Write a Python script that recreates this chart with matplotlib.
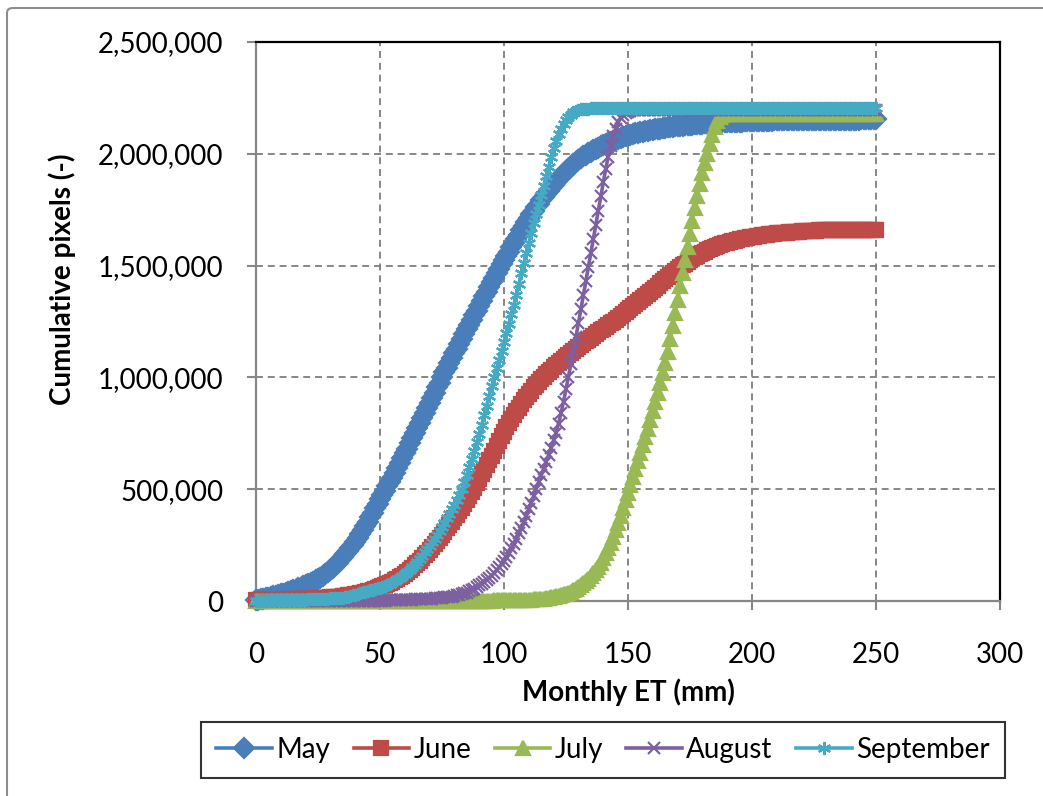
import numpy as np
import matplotlib
matplotlib.use("Agg")
import matplotlib.pyplot as plt
from matplotlib.ticker import FuncFormatter, MultipleLocator
from matplotlib.patches import FancyBboxPatch

# Monthly ET bins (mm), 1 mm steps
et_mm = list(range(0, 251))

# Cumulative pixel counts, in thousands of pixels
may = [3, 5, 7, 10, 12, 15, 18, 21, 24, 27, 30,
       33, 37, 40, 44, 47, 51, 56, 60, 65, 70,
       75, 80, 86, 92, 98, 105, 113, 121, 129, 138,
       148, 159, 171, 183, 195, 208, 222, 236, 250, 265,
       282, 299, 317, 336, 355, 375, 395, 415, 435, 455,
       474, 493, 513, 532, 552, 573, 595, 616, 638, 660,
       682, 705, 727, 750, 773, 796, 818, 841, 864, 887,
       910, 932, 955, 977, 1000, 1022, 1043, 1065, 1086, 1108,
       1129, 1151, 1172, 1194, 1215, 1236, 1257, 1278, 1299, 1320,
       1341, 1362, 1383, 1404, 1425, 1445, 1465, 1485, 1505, 1525,
       1544, 1563, 1582, 1601, 1620, 1639, 1657, 1676, 1694, 1713,
       1729, 1745, 1761, 1776, 1792, 1806, 1820, 1834, 1848, 1862,
       1874, 1887, 1899, 1911, 1923, 1933, 1943, 1953, 1963, 1973,
       1981, 1988, 1996, 2003, 2010, 2016, 2022, 2028, 2034, 2040,
       2045, 2050, 2055, 2059, 2064, 2068, 2072, 2076, 2079, 2083,
       2086, 2089, 2092, 2094, 2097, 2099, 2101, 2104, 2106, 2108,
       2110, 2112, 2113, 2115, 2117, 2118, 2120, 2121, 2123, 2124,
       2125, 2126, 2128, 2129, 2130, 2131, 2132, 2133, 2134, 2135,
       2136, 2137, 2137, 2138, 2139, 2139, 2140, 2141, 2141, 2142,
       2142, 2143, 2143, 2144, 2144, 2144, 2145, 2145, 2146, 2146,
       2146, 2147, 2147, 2147, 2148, 2148, 2148, 2148, 2149, 2149,
       2149, 2149, 2150, 2150, 2150, 2150, 2150, 2151, 2151, 2151,
       2151, 2151, 2151, 2152, 2152, 2152, 2152, 2152, 2152, 2152,
       2152, 2153, 2153, 2153, 2153, 2153, 2153, 2153, 2153, 2153,
       2153, 2153, 2153, 2154, 2154, 2154, 2154, 2154, 2154, 2154]

june = [3, 3, 3, 3, 4, 4, 4, 4, 5, 5, 5,
        5, 6, 6, 6, 7, 7, 8, 8, 9, 9,
        10, 10, 11, 12, 12, 13, 14, 14, 15, 16,
        17, 18, 19, 20, 22, 23, 25, 26, 28, 30,
        32, 35, 37, 40, 43, 46, 50, 54, 58, 62,
        66, 71, 75, 80, 85, 92, 99, 107, 114, 122,
        131, 140, 149, 159, 168, 180, 192, 204, 216, 228,
        241, 255, 268, 282, 295, 310, 325, 340, 355, 370,
        386, 402, 418, 434, 450, 469, 488, 507, 527, 547,
        567, 588, 608, 629, 650, 672, 694, 716, 737, 757,
        776, 795, 813, 831, 848, 865, 881, 897, 912, 927,
        941, 955, 968, 981, 993, 1004, 1015, 1025, 1035, 1045,
        1054, 1063, 1072, 1081, 1090, 1099, 1108, 1117, 1126, 1135,
        1144, 1152, 1161, 1169, 1178, 1186, 1194, 1202, 1210, 1218,
        1226, 1234, 1242, 1250, 1258, 1266, 1275, 1283, 1292, 1300,
        1309, 1318, 1327, 1336, 1345, 1354, 1364, 1373, 1383, 1392,
        1402, 1411, 1421, 1430, 1440, 1449, 1458, 1467, 1476, 1485,
        1493, 1501, 1509, 1517, 1525, 1532, 1538, 1545, 1551, 1558,
        1563, 1568, 1573, 1578, 1583, 1587, 1591, 1595, 1599, 1603,
        1606, 1609, 1612, 1615, 1618, 1620, 1622, 1624, 1626, 1628,
        1630, 1632, 1633, 1635, 1637, 1638, 1640, 1641, 1643, 1644,
        1645, 1646, 1647, 1648, 1649, 1650, 1651, 1651, 1652, 1653,
        1654, 1654, 1655, 1655, 1656, 1656, 1657, 1657, 1658, 1658,
        1658, 1658, 1658, 1659, 1659, 1659, 1659, 1659, 1659, 1659,
        1659, 1659, 1660, 1660, 1660, 1660, 1660, 1660, 1660, 1660]

july = [1, 1, 1, 1, 1, 1, 1, 1, 1, 1, 1,
        1, 1, 1, 1, 1, 1, 1, 1, 1, 1,
        1, 1, 1, 1, 1, 1, 1, 1, 1, 1,
        1, 1, 1, 1, 1, 1, 1, 1, 1, 1,
        1, 1, 1, 1, 1, 1, 1, 1, 1, 1,
        1, 1, 1, 1, 1, 1, 1, 1, 1, 1,
        1, 1, 1, 1, 1, 1, 1, 1, 1, 1,
        1, 1, 1, 1, 2, 2, 2, 2, 2, 2,
        2, 2, 2, 2, 2, 2, 2, 2, 2, 2,
        2, 2, 2, 2, 2, 3, 3, 3, 3, 3,
        3, 3, 4, 4, 4, 4, 4, 5, 5, 5,
        6, 7, 7, 8, 10, 11, 13, 14, 16, 18,
        21, 24, 27, 30, 33, 37, 42, 47, 54, 62,
        71, 80, 90, 100, 112, 125, 139, 154, 172, 192,
        213, 236, 261, 288, 317, 348, 381, 415, 450, 485,
        520, 555, 590, 625, 660, 696, 733, 771, 810, 850,
        890, 932, 975, 1020, 1065, 1115, 1170, 1228, 1288, 1348,
        1408, 1468, 1527, 1585, 1642, 1700, 1758, 1812, 1864, 1912,
        1957, 2000, 2043, 2085, 2120, 2148, 2164, 2172, 2176, 2178,
        2179, 2179, 2179, 2179, 2179, 2179, 2179, 2179, 2179, 2179,
        2180, 2180, 2180, 2180, 2180, 2180, 2180, 2180, 2180, 2180,
        2180, 2180, 2180, 2180, 2180, 2180, 2180, 2180, 2180, 2180,
        2180, 2180, 2180, 2180, 2180, 2180, 2180, 2180, 2180, 2180,
        2180, 2180, 2180, 2180, 2180, 2180, 2180, 2180, 2180, 2180,
        2180, 2180, 2180, 2180, 2180, 2180, 2180, 2180, 2180, 2180]

august = [0, 0, 0, 0, 0, 0, 0, 0, 0, 0, 0,
          0, 0, 0, 0, 0, 0, 0, 0, 0, 0,
          0, 0, 0, 0, 0, 0, 0, 0, 0, 0,
          0, 0, 0, 0, 0, 0, 0, 0, 0, 0,
          1, 1, 1, 1, 1, 1, 1, 2, 2, 2,
          2, 2, 3, 3, 3, 3, 4, 4, 5, 5,
          5, 6, 6, 7, 7, 8, 8, 9, 9, 10,
          11, 12, 13, 14, 15, 16, 17, 18, 20, 22,
          25, 28, 31, 34, 38, 43, 49, 55, 62, 70,
          78, 86, 95, 104, 114, 125, 137, 150, 164, 178,
          196, 215, 235, 256, 278, 302, 327, 354, 382, 411,
          440, 470, 502, 532, 562, 592, 622, 653, 685, 718,
          752, 793, 840, 892, 947, 1003, 1061, 1120, 1180, 1242,
          1304, 1367, 1430, 1493, 1556, 1619, 1682, 1745, 1810, 1872,
          1932, 1985, 2035, 2078, 2112, 2140, 2160, 2175, 2184, 2189,
          2192, 2194, 2195, 2196, 2196, 2196, 2196, 2196, 2196, 2196,
          2196, 2196, 2196, 2196, 2196, 2196, 2196, 2196, 2196, 2196,
          2196, 2196, 2196, 2196, 2196, 2196, 2196, 2196, 2196, 2196,
          2196, 2196, 2196, 2196, 2196, 2196, 2197, 2197, 2197, 2197,
          2197, 2197, 2197, 2197, 2197, 2197, 2197, 2197, 2197, 2197,
          2197, 2197, 2197, 2197, 2197, 2197, 2197, 2197, 2197, 2197,
          2197, 2197, 2197, 2197, 2197, 2197, 2197, 2197, 2197, 2197,
          2197, 2197, 2197, 2197, 2197, 2197, 2197, 2197, 2197, 2197,
          2197, 2197, 2197, 2197, 2197, 2197, 2197, 2197, 2197, 2197,
          2197, 2197, 2197, 2197, 2197, 2197, 2197, 2197, 2197, 2197]

september = [2, 2, 2, 2, 2, 3, 3, 3, 3, 3, 3,
             4, 4, 4, 4, 5, 5, 5, 6, 6, 6,
             7, 7, 8, 8, 9, 9, 10, 10, 11, 12,
             12, 13, 14, 14, 15, 17, 19, 22, 25, 28,
             32, 36, 39, 42, 45, 48, 51, 54, 57, 60,
             63, 67, 72, 78, 85, 91, 98, 105, 112, 120,
             129, 140, 152, 163, 175, 189, 203, 217, 231, 245,
             262, 279, 296, 313, 330, 350, 370, 390, 410, 430,
             453, 476, 500, 532, 565, 601, 637, 673, 709, 745,
             788, 831, 874, 917, 960, 1000, 1040, 1080, 1120, 1160,
             1200, 1240, 1283, 1326, 1370, 1417, 1465, 1510, 1555, 1600,
             1645, 1690, 1732, 1773, 1815, 1857, 1900, 1943, 1985, 2025,
             2058, 2090, 2113, 2135, 2150, 2165, 2175, 2185, 2191, 2196,
             2199, 2201, 2202, 2202, 2203, 2203, 2203, 2204, 2204, 2204,
             2204, 2204, 2204, 2204, 2204, 2204, 2204, 2204, 2205, 2205,
             2205, 2205, 2205, 2205, 2205, 2205, 2205, 2205, 2205, 2205,
             2205, 2205, 2205, 2205, 2205, 2205, 2205, 2205, 2205, 2205,
             2205, 2205, 2205, 2205, 2205, 2205, 2205, 2205, 2205, 2205,
             2205, 2205, 2205, 2205, 2205, 2205, 2205, 2205, 2205, 2205,
             2205, 2205, 2205, 2205, 2205, 2205, 2205, 2205, 2205, 2205,
             2205, 2205, 2205, 2205, 2205, 2205, 2205, 2205, 2205, 2205,
             2205, 2205, 2205, 2205, 2205, 2205, 2205, 2205, 2205, 2205,
             2205, 2205, 2205, 2205, 2205, 2205, 2205, 2205, 2205, 2205,
             2205, 2205, 2205, 2205, 2205, 2205, 2205, 2205, 2205, 2205,
             2205, 2205, 2205, 2205, 2205, 2205, 2205, 2205, 2205, 2205]

months = ["May", "June", "July", "August", "September"]
series = [may, june, july, august, september]

colors = ["#4A7EBB", "#BE4B48", "#98B954", "#7D60A0", "#46AAC5"]
markers = ["D", "s", "^", "x", (6, 2, 0)]
msizes = [10.5, 10.5, 10, 8.5, 9.5]

plt.rcParams["font.family"] = ["Lato", "DejaVu Sans"]
plt.rcParams["lines.scale_dashes"] = False

W, H = 1043, 796
fig = plt.figure(figsize=(W / 100, H / 100), dpi=100)
ax = fig.add_axes([256 / W, 1 - 601 / H, 744 / W, 559 / H])

for name, vals, c, m, ms in zip(months, series, colors, markers, msizes):
    ax.plot(et_mm, np.asarray(vals) * 1000, color=c, lw=2.6,
            marker=m, ms=ms, mfc=c, mec=c, mew=1.6,
            label=name, clip_on=False, zorder=3)

ax.set_xlim(0, 300)
ax.set_ylim(0, 2500000)
ax.xaxis.set_major_locator(MultipleLocator(50))
ax.yaxis.set_major_locator(MultipleLocator(500000))
ax.yaxis.set_major_formatter(FuncFormatter(lambda v, p: f"{v:,.0f}"))

grid_gray = "#878787"
ax.grid(True, color=grid_gray, lw=1.4, linestyle=(0, (5, 3.5)))
ax.set_axisbelow(True)

for side in ("left", "bottom"):
    ax.spines[side].set_color(grid_gray)
    ax.spines[side].set_linewidth(1.6)
for side in ("top", "right"):
    ax.spines[side].set_color("black")
    ax.spines[side].set_linewidth(1.6)

ax.tick_params(axis="both", direction="out", length=6.5, width=1.5,
               color=grid_gray, labelsize=20, labelcolor="black")
ax.tick_params(axis="y", pad=17)
ax.tick_params(axis="x", pad=23)

ax.set_xlabel("Monthly ET (mm)", fontsize=20, fontweight="bold")
ax.set_ylabel("Cumulative pixels (-)", fontsize=20, fontweight="bold")
ax.xaxis.label.set_va("center")
ax.yaxis.label.set_va("center")
ax.xaxis.set_label_coords(0.5, (601 - 692) / 559)
ax.yaxis.set_label_coords((62 - 256) / 744, (601 - 279) / 559)

handles, labels = ax.get_legend_handles_labels()
leg = fig.legend(handles, labels, loc="center",
                 bbox_to_anchor=(603 / W, 1 - 750 / H), ncol=5,
                 frameon=True, fancybox=False, edgecolor="black",
                 fontsize=20, handlelength=2.0, handletextpad=0.15,
                 columnspacing=0.85, borderpad=0.55, numpoints=1,
                 borderaxespad=0)
leg.get_frame().set_linewidth(1.5)

# Chart-area border
fig.patches.append(FancyBboxPatch((7 / W, -0.05), 1.1, 1 - 8 / H + 0.05,
                                  boxstyle="round,pad=0,rounding_size=0.006",
                                  transform=fig.transFigure, fill=False,
                                  ec="#8C8C8C", lw=1.5))

fig.savefig("out.png", dpi=100)
